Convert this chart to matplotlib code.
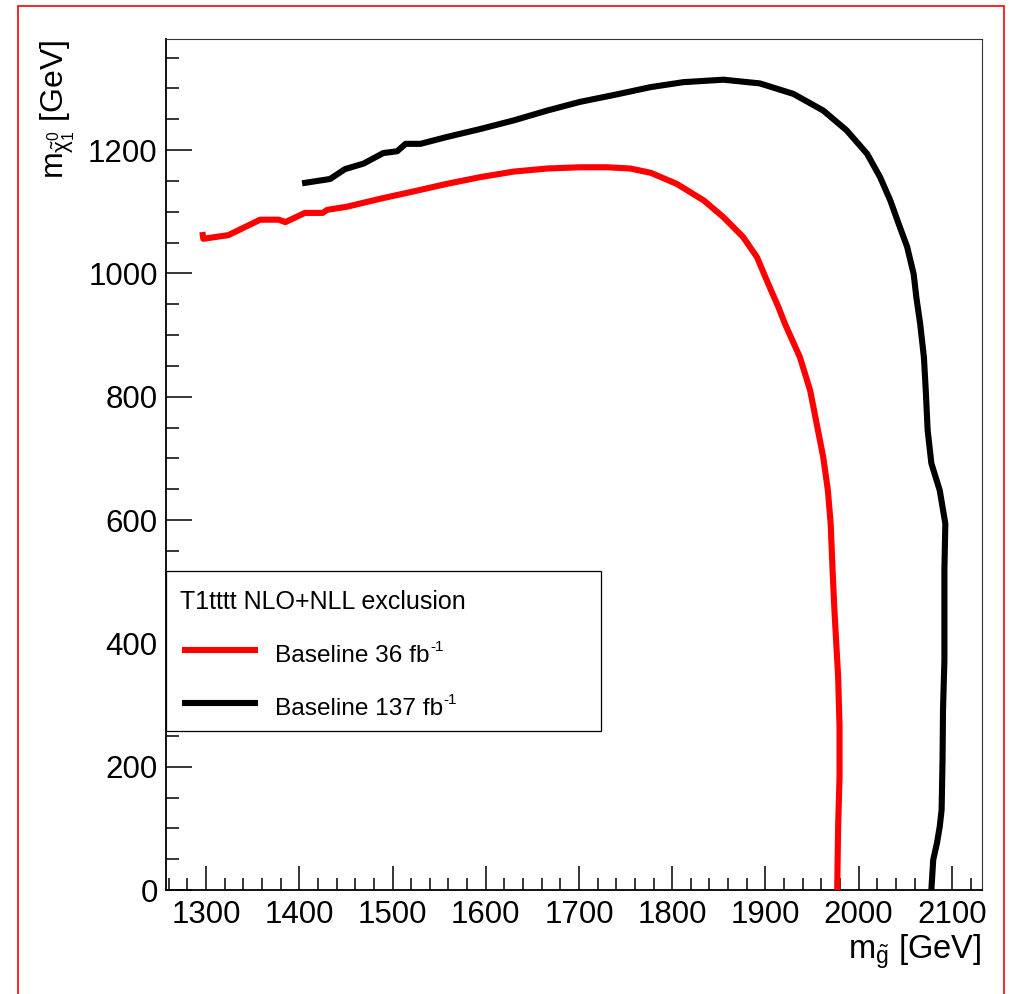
import matplotlib
matplotlib.use("Agg")
import matplotlib.pyplot as plt
from matplotlib.ticker import MultipleLocator
from matplotlib.patches import Rectangle
from matplotlib.lines import Line2D

plt.rcParams['font.family'] = ['Liberation Sans', 'DejaVu Sans']
plt.rcParams['mathtext.fontset'] = 'custom'
plt.rcParams['mathtext.rm'] = 'Liberation Sans'
plt.rcParams['mathtext.it'] = 'Liberation Sans'
plt.rcParams['mathtext.bf'] = 'Liberation Sans:bold'

# ---- data ----
red_x = [1296, 1297, 1324, 1358, 1378, 1385, 1406, 1425, 1430, 1451, 1487, 1523,
         1558, 1594, 1630, 1666, 1701, 1730, 1755, 1777, 1805, 1834, 1855, 1876,
         1891, 1903, 1914, 1921, 1937, 1948, 1955, 1962, 1967, 1970, 1972, 1974,
         1976, 1978, 1979.5, 1979.5, 1978, 1977]
red_y = [1067, 1056, 1062, 1087, 1087, 1083, 1098, 1098, 1103, 1108, 1121, 1133,
         1145, 1156, 1165, 1170, 1172, 1172, 1170, 1163, 1145, 1118, 1091, 1059,
         1026, 983, 945, 918, 864, 810, 756, 702, 648, 594, 520, 454,
         400, 346, 265, 184, 103, 0]

black_x = [1403, 1433, 1449, 1469, 1490, 1505, 1514, 1530, 1558, 1594, 1630, 1666,
           1701, 1740, 1777, 1812, 1855, 1894, 1930, 1962, 1987, 2009, 2023, 2034,
           2043, 2052, 2059, 2062, 2066, 2070, 2072, 2074, 2078, 2087, 2093, 2092,
           2092, 2092, 2090.5, 2090, 2089, 2087, 2084, 2080, 2078]
black_y = [1146, 1153, 1169, 1178, 1195, 1198, 1210, 1210, 1221, 1234, 1248, 1264,
           1278, 1290, 1302, 1310, 1314, 1308, 1291, 1264, 1232, 1194, 1156, 1118,
           1080, 1043, 999, 960, 918, 864, 810, 746, 692, 648, 594, 520,
           454, 373, 292, 211, 130, 103, 76, 49, 0]

legend_title = "T1tttt NLO+NLL exclusion"
label_red = "Baseline 36 fb"
label_black = "Baseline 137 fb"
label_sup = "-1"

W, H = 1015, 994
fig = plt.figure(figsize=(W / 100, H / 100), dpi=100)

ax_l, ax_r, ax_t, ax_b = 166, 981.7, 39, 890
ax = fig.add_axes([ax_l / W, 1 - ax_b / H, (ax_r - ax_l) / W, (ax_b - ax_t) / H])

ax.plot(red_x, red_y, color='#ff0000', lw=4.4, solid_joinstyle='round',
        solid_capstyle='butt', zorder=3)
ax.plot(black_x, black_y, color='black', lw=4.4, solid_joinstyle='round',
        solid_capstyle='butt', zorder=3)

ax.set_xlim(1257, 2132)
ax.set_ylim(0, 1380)

ax.xaxis.set_major_locator(MultipleLocator(100))
ax.xaxis.set_minor_locator(MultipleLocator(20))
ax.yaxis.set_major_locator(MultipleLocator(200))
ax.yaxis.set_minor_locator(MultipleLocator(50))

ax.tick_params(which='both', direction='in', top=False, right=False, width=1.1,
               color='black')
ax.tick_params(which='major', labelsize=22.5)
ax.tick_params(axis='x', which='major', pad=7, length=17.5)
ax.tick_params(axis='y', which='major', pad=6, length=19)
ax.tick_params(which='minor', length=9)

for s in ['left', 'bottom']:
    ax.spines[s].set_linewidth(1.3)
for s in ['top', 'right']:
    ax.spines[s].set_linewidth(0.8)
    ax.spines[s].set_color('#333333')

ax.set_xlabel(r"m$_{\tilde{\mathregular{g}}}$ [GeV]", fontsize=23.5, loc='right', labelpad=2)
ax.set_ylabel(r"m$_{\tilde{\chi}^{\mathregular{0}}_{\mathregular{1}}}$ [GeV]", fontsize=23,
              loc='top', labelpad=8)

# ---- legend box (drawn in figure pixel coordinates) ----
def fx(px):
    return px / W

def fy(py):
    return 1 - py / H

leg_l, leg_t, leg_r, leg_b = 165.7, 571, 601, 730.7
fig.add_artist(Rectangle((fx(leg_l), fy(leg_b)), fx(leg_r) - fx(leg_l), fy(leg_t) - fy(leg_b),
                         transform=fig.transFigure, facecolor='white', edgecolor='black',
                         linewidth=0.9, zorder=10))
fig.text(fx(180), fy(602), legend_title, fontsize=18, va='center', ha='left', zorder=11)
fig.add_artist(Line2D([fx(182), fx(258)], [fy(650), fy(650)], color='#ff0000', lw=4.4,
                      solid_capstyle='butt', transform=fig.transFigure, zorder=11))
fig.add_artist(Line2D([fx(182), fx(258)], [fy(703), fy(703)], color='black', lw=4.4,
                      solid_capstyle='butt', transform=fig.transFigure, zorder=11))

for label, py in [(label_red, 656), (label_black, 709)]:
    t = fig.text(fx(275), fy(py), label, fontsize=17.6, va='center', ha='left', zorder=11)
    fig.canvas.draw()
    bb = t.get_window_extent()
    fig.text(bb.x1 / W + 0.5 / W, fy(py - 9), label_sup, fontsize=11, va='center',
             ha='left', zorder=11)

# ---- red canvas frame ----
fig.add_artist(Rectangle((fx(18), fy(1010)), fx(1004) - fx(18), fy(6) - fy(1010),
                         transform=fig.transFigure, facecolor='none', edgecolor='#ff0000',
                         linewidth=1.2, zorder=20, clip_on=False))

fig.savefig("out.png", dpi=100)
